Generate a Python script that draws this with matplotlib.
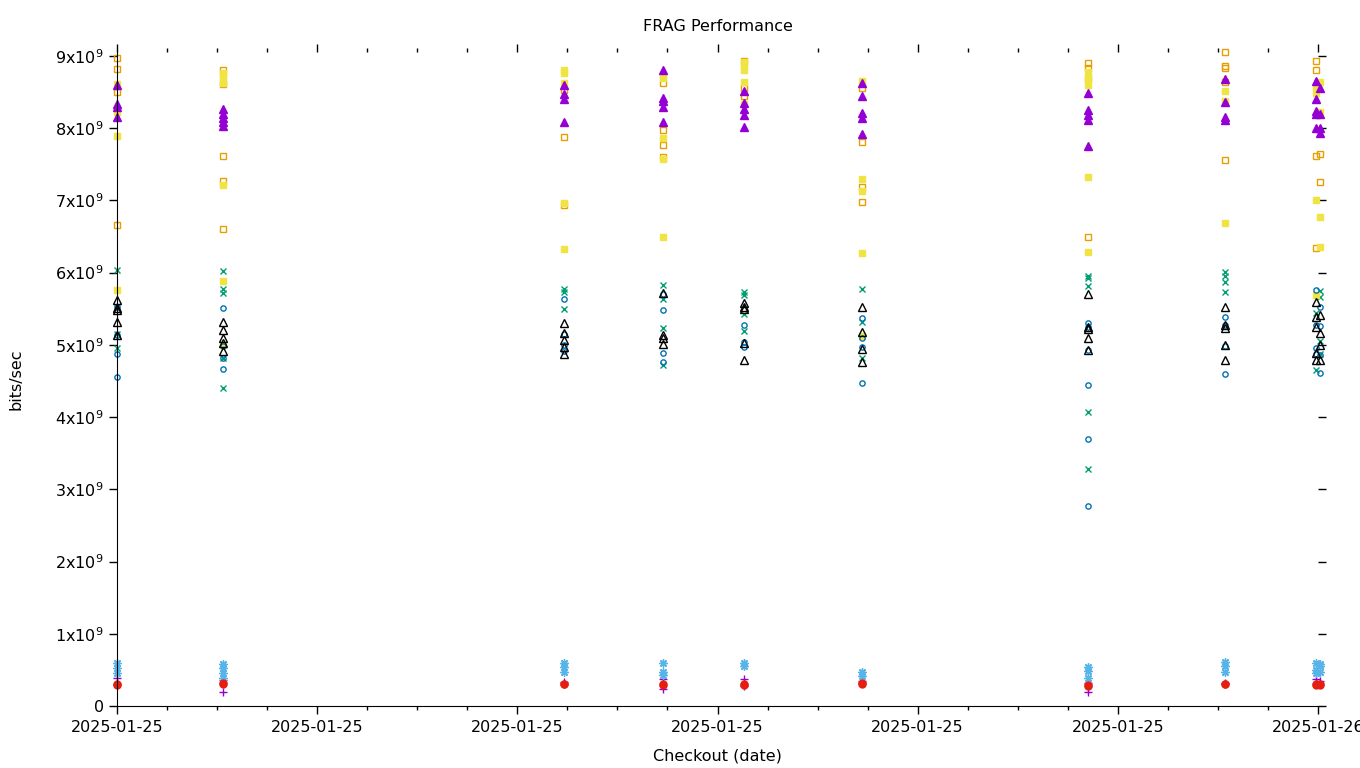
import datetime as dt
import matplotlib
matplotlib.use("Agg")
import matplotlib.pyplot as plt
import matplotlib.dates as mdates
from matplotlib.ticker import FuncFormatter, MultipleLocator

# horas (desde 2025-01-25 00:00) de cada ejecucion
run_hours = [0.0, 2.12, 8.94, 10.92, 12.52, 14.88, 19.40, 22.14, 23.96, 24.04]

# valores en 1e9 bits/sec, una lista por ejecucion
plus_vals = [[0.30, 0.39], [0.19, 0.36], [0.33], [0.23, 0.37], [0.27, 0.38], [0.32, 0.35],
             [0.20, 0.32], [0.32], [0.37], [0.35]]
cross_vals = [[6.04, 5.52, 5.15, 4.96], [6.02, 5.78, 5.72, 4.82, 4.40], [5.78, 5.73, 5.50],
              [5.83, 5.64, 5.23, 4.72], [5.73, 5.69, 5.43, 5.19], [5.77, 5.31, 4.82],
              [5.95, 5.92, 5.82, 4.07, 3.28], [6.01, 5.95, 5.87, 5.73], [5.44, 4.65],
              [5.75, 5.66, 5.05, 4.88]]
star_vals = [[0.60, 0.53, 0.46], [0.58, 0.53, 0.46, 0.39], [0.59, 0.54, 0.47],
             [0.59, 0.47, 0.43], [0.60, 0.55], [0.47, 0.42], [0.54, 0.48, 0.39],
             [0.61, 0.56, 0.47], [0.60, 0.50, 0.45], [0.58, 0.55, 0.47]]
osq_vals = [[8.97, 8.82, 8.50, 6.66], [8.80, 8.61, 7.62, 7.27, 6.61], [8.53, 7.88, 6.93],
            [8.63, 7.97, 7.77, 7.60], [8.93, 8.56, 8.44], [8.56, 7.81, 7.19, 6.98],
            [8.90, 8.84, 8.68, 6.50], [9.06, 8.86, 8.83, 8.64, 7.56], [8.93, 8.80, 7.61, 6.34],
            [7.64, 7.26]]
fsq_vals = [[8.61, 8.23, 7.89, 5.76], [8.77, 8.72, 8.67, 8.62, 7.21, 5.89, 5.00],
            [8.80, 8.76, 8.62, 6.97, 6.33], [8.74, 8.69, 7.86, 7.57, 6.49],
            [8.91, 8.86, 8.80, 8.64, 8.33], [8.66, 7.30, 7.13, 6.27, 5.12],
            [8.78, 8.70, 8.60, 7.33, 6.29], [8.52, 8.37, 6.69], [8.57, 8.49, 7.00, 5.69],
            [8.64, 8.22, 6.77, 6.36]]
ocirc_vals = [[5.52, 5.13, 4.88, 4.55], [5.51, 4.98, 4.82, 4.67], [5.64, 5.15, 5.00, 4.91],
              [5.71, 5.48, 4.89, 4.76], [5.28, 5.04, 4.97], [5.37, 5.10, 4.97, 4.47],
              [5.30, 5.25, 4.93, 4.44, 3.70, 2.77], [5.39, 5.28, 4.99, 4.60],
              [5.76, 5.28, 4.96, 4.88], [5.53, 5.26, 4.86, 4.61]]
fcirc_vals = [[0.29, 0.30], [0.32, 0.30], [0.30, 0.31], [0.29, 0.30], [0.30, 0.29], [0.30, 0.32],
              [0.29, 0.28], [0.30, 0.31], [0.30, 0.29], [0.29, 0.31]]
otri_vals = [[5.62, 5.51, 5.48, 5.32, 5.14], [5.32, 5.20, 5.09, 5.02, 4.91],
             [5.30, 5.17, 5.07, 4.97, 4.88], [5.72, 5.14, 5.10, 5.01],
             [5.58, 5.52, 5.49, 5.03, 4.79], [5.52, 5.18, 4.94, 4.76],
             [5.70, 5.25, 5.22, 5.10, 4.93], [5.53, 5.27, 5.23, 5.00, 4.79],
             [5.60, 5.39, 5.25, 4.89, 4.79], [5.42, 5.17, 5.00, 4.79]]
ftri_vals = [[8.60, 8.33, 8.30, 8.15], [8.27, 8.20, 8.14, 8.08, 8.03], [8.60, 8.48, 8.41, 8.08],
             [8.80, 8.42, 8.37, 8.29, 8.09], [8.51, 8.35, 8.27, 8.18, 8.02],
             [8.63, 8.44, 8.21, 8.14, 7.92], [8.49, 8.25, 8.18, 8.12, 7.75],
             [8.68, 8.36, 8.16, 8.12], [8.65, 8.40, 8.24, 8.20, 8.00], [8.56, 8.20, 8.00, 7.93]]

base = dt.datetime(2025, 1, 25)

# estilos tipo gnuplot: (valores, marcador, color, relleno, tamaño)
series = [
    (plus_vals, '+', '#9400d3', True, 6),
    (cross_vals, 'x', '#009e73', True, 5),
    (star_vals, (8, 2, 0), '#56b4e9', True, 6),
    (osq_vals, 's', '#e69f00', False, 5),
    (fsq_vals, 's', '#f0e442', True, 5),
    (ocirc_vals, 'o', '#0072b2', False, 3.8),
    (fcirc_vals, 'o', '#e51e10', True, 5),
    (otri_vals, '^', '#000000', False, 6),
    (ftri_vals, '^', '#9400d3', True, 6),
]

fig = plt.figure(figsize=(13.6, 7.68), dpi=100)
ax = fig.add_axes([117 / 1360, 1 - 706 / 768, (1318 - 117) / 1360, (706 - 52) / 768])

for vals, mk, col, filled, ms in series:
    xs = []
    ys = []
    for h, run in zip(run_hours, vals):
        for v in run:
            xs.append(base + dt.timedelta(hours=h))
            ys.append(v * 1e9)
    if filled:
        ax.plot(xs, ys, linestyle='none', marker=mk, color=col, markersize=ms,
                markeredgewidth=1.0, clip_on=False)
    else:
        ax.plot(xs, ys, linestyle='none', marker=mk, markerfacecolor='none',
                markeredgecolor=col, markersize=ms, markeredgewidth=1.0, clip_on=False)

ax.set_xlim(base, base + dt.timedelta(hours=24))
ax.set_ylim(0, 9.055e9)
ax.xaxis.set_major_locator(mdates.HourLocator(byhour=[0, 4, 8, 12, 16, 20]))
ax.xaxis.set_minor_locator(mdates.HourLocator())
ax.xaxis.set_major_formatter(mdates.DateFormatter('%Y-%m-%d'))
ax.yaxis.set_major_locator(MultipleLocator(1e9))


def fmt_y(v, pos):
    n = int(round(v / 1e9))
    if n == 0:
        return '0'
    return '%dx10$^{9}$' % n


ax.yaxis.set_major_formatter(FuncFormatter(fmt_y))

ax.spines['top'].set_visible(False)
ax.spines['right'].set_visible(False)
ax.tick_params(which='both', direction='out', top=True, right=True, labelsize=11.5, width=1)
ax.tick_params(which='major', length=6)
ax.tick_params(which='minor', length=3)
ax.tick_params(axis='x', which='major', pad=4)

ax.set_title('FRAG Performance', fontsize=11.5, pad=15)
ax.set_xlabel('Checkout (date)', fontsize=11.5, labelpad=10)
ax.set_ylabel('bits/sec', fontsize=11.5)
ax.yaxis.set_label_coords(-0.078, 0.5)

fig.savefig('out.png', dpi=100)
